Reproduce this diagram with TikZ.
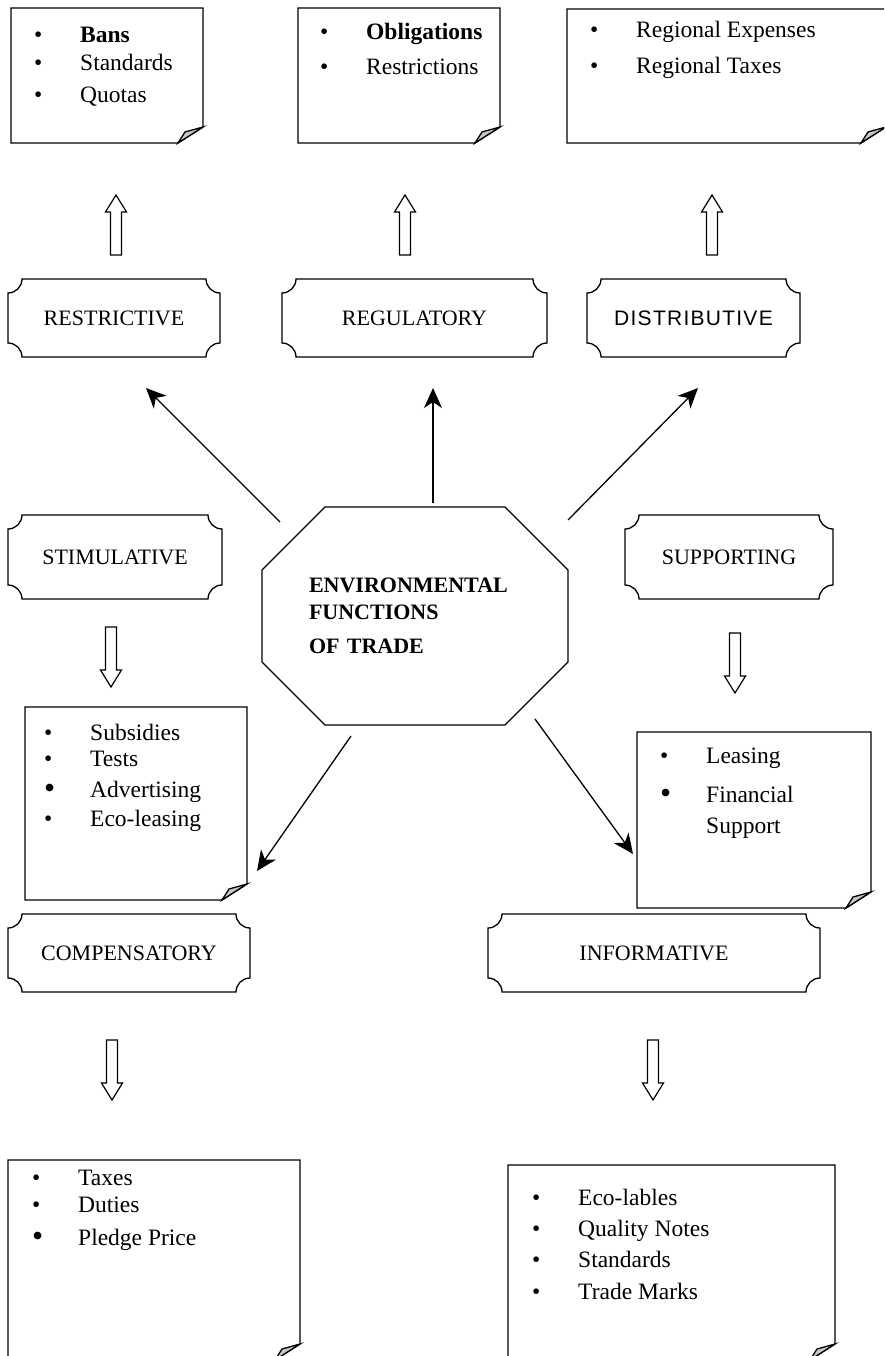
\documentclass[tikz,border=0pt]{standalone}
\usepackage{fontspec}
\setmainfont{Liberation Serif}
\newfontfamily\arialfont[LetterSpace=6]{Liberation Sans}
\usetikzlibrary{arrows.meta,calc}

\newcommand{\notefont}{\fontsize{23.5}{28}\selectfont}
\newcommand{\plaquefont}{\fontsize{22}{26}\selectfont}
\newcommand{\dotitem}{\makebox[46pt][l]{\textbullet}}
\newcommand{\bigitem}{\makebox[46pt][l]{\raisebox{-1pt}{\scalebox{1.35}{\textbullet}}}}
\newcommand{\noitem}{\makebox[46pt][l]{}}
\colorlet{foldgray}{black!22}

% sheet of paper with a turned-up corner
\newcommand{\noteframe}[1]{%
  \draw[frame] (#1.north west) -- (#1.north east) -- ([yshift=16pt]#1.south east)
    -- ([xshift=-25pt]#1.south east) -- (#1.south west) -- cycle;
  \filldraw[frame, fill=foldgray] ([xshift=-25pt]#1.south east)
    .. controls ([xshift=-22pt,yshift=6pt]#1.south east) .. ([xshift=-18pt,yshift=11pt]#1.south east)
    -- ([yshift=16pt]#1.south east) -- cycle;
}
% plaque with concave corners
\newcommand{\plaqueframe}[1]{%
  \draw[frame] ([xshift=14pt]#1.north west) -- ([xshift=-14pt]#1.north east)
    .. controls ([xshift=-14pt,yshift=-7.7pt]#1.north east) and ([xshift=-7.7pt,yshift=-14pt]#1.north east) .. ([yshift=-14pt]#1.north east)
    -- ([yshift=14pt]#1.south east)
    .. controls ([xshift=-7.7pt,yshift=14pt]#1.south east) and ([xshift=-14pt,yshift=7.7pt]#1.south east) .. ([xshift=-14pt]#1.south east)
    -- ([xshift=14pt]#1.south west)
    .. controls ([xshift=14pt,yshift=7.7pt]#1.south west) and ([xshift=7.7pt,yshift=14pt]#1.south west) .. ([yshift=14pt]#1.south west)
    -- ([yshift=-14pt]#1.north west)
    .. controls ([xshift=7.7pt,yshift=-14pt]#1.north west) and ([xshift=14pt,yshift=-7.7pt]#1.north west) .. cycle;
}

\tikzset{
  frame/.style={line width=1.3pt},
  plaque/.style={minimum width=#1, minimum height=78pt, inner sep=0pt, outer sep=0pt, font=\plaquefont},
  note/.style 2 args={minimum width=#1, minimum height=#2, inner sep=0pt, outer sep=0pt},
  entry/.style={anchor=base west, inner sep=0pt, font=\notefont},
  hub/.style={minimum width=306pt, minimum height=218pt, inner sep=0pt, outer sep=0pt,
    text width=212pt, align=left, font=\bfseries\fontsize{22}{27}\selectfont},
  arr/.style={line width=1.3pt, -{Stealth[length=20pt,width=18pt,inset=6pt]}},
  pics/uparrow/.style={code={
    \draw[line width=1.2pt] (-5.5,0) -- (-5.5,-43) -- (-10.5,-43) -- (0,-60)
      -- (10.5,-43) -- (5.5,-43) -- (5.5,0) -- cycle;}},
  pics/downarrow/.style={code={
    \draw[line width=1.2pt] (-5.5,0) -- (-5.5,43) -- (-10.5,43) -- (0,60)
      -- (10.5,43) -- (5.5,43) -- (5.5,0) -- cycle;}}
}

\begin{document}
\begin{tikzpicture}[x=1pt,y=-1pt]
  \useasboundingbox (0,0) rectangle (884,1356);
  \clip (0,0) rectangle (884,1356);

  % Top row: sheets
  \node[note={192pt}{135pt}] (bansnote) at (107,75.5) {};
  \node[note={202pt}{135pt}] (oblignote) at (399,75.5) {};
  \node[note={319pt}{134pt}] (regionnote) at (726.5,76) {};
  \foreach \yy/\txt [count=\i] in {43/\dotitem\textbf{Bans}, 71/\dotitem Standards, 103/\dotitem Quotas}
    \node[entry] (bans\i) at (34,\yy) {\txt};
  \foreach \yy/\txt [count=\i] in {40/\dotitem\textbf{Obligations}, 75/\dotitem Restrictions}
    \node[entry] (oblig\i) at (320,\yy) {\txt};
  \foreach \yy/\txt [count=\i] in {38/\dotitem Regional Expenses, 74/\dotitem Regional Taxes}
    \node[entry] (region\i) at (590,\yy) {\txt};

  % Top row: hollow arrows
  \pic (upA) at (116,255) {uparrow};
  \pic (upB) at (405,255) {uparrow};
  \pic (upC) at (712,255) {uparrow};

  % Plaques
  \node[plaque=212pt] (restr) at (114,318) {RESTRICTIVE};
  \node[plaque=265pt] (regul) at (414.5,318) {REGULATORY};
  \node[plaque=213pt, font=\arialfont\fontsize{21}{25}\selectfont] (distr) at (693.5,318) {DISTRIBUTIVE};
  \node[plaque=214pt, minimum height=84pt] (stim) at (115,557) {STIMULATIVE};
  \node[plaque=208pt, minimum height=84pt] (supp) at (729,557) {SUPPORTING};
  \node[plaque=242pt] (comp) at (129,953) {COMPENSATORY};
  \node[plaque=332pt] (info) at (654,953) {INFORMATIVE};

  % Centre
  \node[hub] (env) at (415,616) {ENVIRONMENTAL\\FUNCTIONS\\[7pt]OF TRADE};
  \draw[frame] ([xshift=63pt]env.north west) -- ([xshift=-63pt]env.north east)
    -- ([yshift=-63pt]env.north east) -- ([yshift=63pt]env.south east)
    -- ([xshift=-63pt]env.south east) -- ([xshift=63pt]env.south west)
    -- ([yshift=63pt]env.south west) -- ([yshift=-63pt]env.north west) -- cycle;

  % Thin arrows
  \coordinate (s1) at (280,522); \coordinate (e1) at (146,388);
  \coordinate (s2) at (433,503); \coordinate (e2) at (433,388);
  \coordinate (s3) at (568,520); \coordinate (e3) at (698,388);
  \coordinate (s4) at (351,736); \coordinate (e4) at (257,871);
  \coordinate (s5) at (535,719); \coordinate (e5) at (633,854);
  \foreach \k in {1,...,5}
    \draw[arr] (s\k) -- (e\k);

  % Middle row: hollow arrows and sheets
  \pic (dnStim) at (111,627) {downarrow};
  \pic (dnSupp) at (735,633) {downarrow};
  \node[note={222pt}{193pt}] (stimnote) at (136,803.5) {};
  \node[note={234pt}{176pt}] (suppnote) at (754,820) {};
  \foreach \yy/\txt [count=\i] in {740/\dotitem Subsidies, 766/\dotitem Tests, 797/\bigitem Advertising, 826/\dotitem Eco-leasing}
    \node[entry] (stim\i) at (44,\yy) {\txt};
  \foreach \yy/\txt [count=\i] in {763/\dotitem Leasing, 802/\bigitem Financial, 833/\noitem Support}
    \node[entry] (supp\i) at (660,\yy) {\txt};

  % Bottom row
  \pic (dnComp) at (112,1040) {downarrow};
  \pic (dnInfo) at (653,1040) {downarrow};
  \node[note={292pt}{200pt}] (compnote) at (154,1260) {};
  \node[note={327pt}{195pt}] (infonote) at (671.5,1262.5) {};
  \foreach \yy/\txt [count=\i] in {1185/\dotitem Taxes, 1212/\dotitem Duties, 1245/\bigitem Pledge Price}
    \node[entry] (comp\i) at (32,\yy) {\txt};
  \foreach \yy/\txt [count=\i] in {1205/\dotitem Eco-lables, 1236/\dotitem Quality Notes, 1267/\dotitem Standards, 1299/\dotitem Trade Marks}
    \node[entry] (info\i) at (532,\yy) {\txt};

  % Frames
  \foreach \p in {restr,regul,distr,stim,supp,comp,info}
    \plaqueframe{\p};
  \foreach \n in {bansnote,oblignote,regionnote,stimnote,suppnote,compnote,infonote}
    \noteframe{\n};
\end{tikzpicture}
\end{document}
